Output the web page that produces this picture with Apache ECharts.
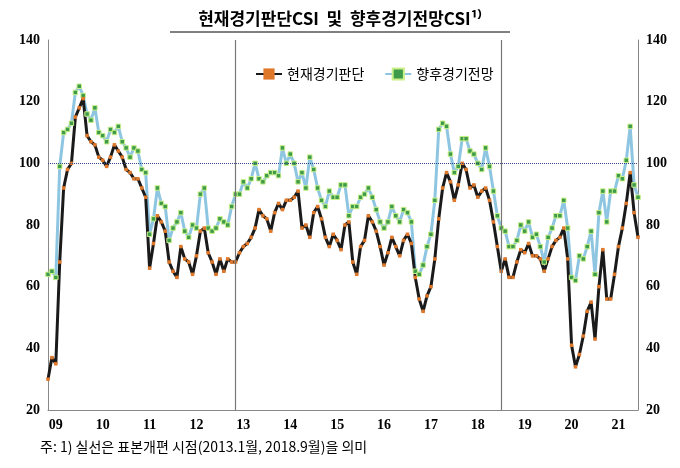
<!DOCTYPE html>
<html><head><meta charset="utf-8">
<script src="https://cdn.jsdelivr.net/npm/echarts@6/dist/echarts.min.js"></script>
<style>html,body{margin:0;padding:0;background:#fff}#c{width:680px;height:468px}</style>
</head><body><div id="c"></div>
<script>
const years = ['09','10','11','12','13','14','15','16','17','18','19','20','21'];
const yTicks = [20,40,60,80,100,120,140];
const currentCSI = [
 30,37,35,68,92,98,100,115,118,121,109,107,
 106,102,101,99,102,106,104,102,98,97,95,95,
 92,89,66,74,83,81,78,68,65,63,73,69,
 68,64,70,78,79,71,68,64,69,65,69,68,
 68,71,73,74,76,79,85,83,82,78,84,87,
 85,88,88,89,91,79,80,76,84,86,82,76,
 73,77,75,72,80,81,68,64,73,75,83,81,
 78,73,67,71,76,73,70,75,77,74,63,56,
 52,57,60,69,82,92,97,94,88,93,100,98,
 92,93,89,91,92,88,81,73,65,69,63,63,
 68,72,71,74,70,70,69,65,69,73,75,76,
 79,69,41,34,38,44,52,55,43,60,72,56,
 56,64,73,79,87,97,84,76
];
const outlookCSI = [
 64,65,63,99,110,111,113,123,125,122,116,114,
 118,110,109,107,111,110,112,107,105,102,105,104,
 98,97,77,82,92,87,86,75,79,81,84,78,
 76,80,79,90,92,79,78,79,82,81,80,86,
 90,90,94,92,95,100,95,94,96,97,97,96,
 105,100,103,100,94,97,92,102,98,92,88,86,
 91,89,89,93,93,83,86,86,89,90,92,89,
 85,81,79,81,86,83,81,85,84,81,65,64,
 67,73,77,88,111,113,112,103,97,99,108,108,
 104,103,100,98,105,99,91,83,79,78,73,73,
 75,80,78,81,76,77,73,68,76,79,83,83,
 88,79,63,62,70,69,73,78,64,84,91,81,
 91,91,96,95,101,112,93,89
];
const categories = [];
for (let y = 2009; y <= 2021; y++) for (let m = 1; m <= 12; m++) {
  if (categories.length < currentCSI.length) categories.push(y + '.' + String(m).padStart(2,'0'));
}
const chart = echarts.init(document.getElementById('c'));
const font = 'Liberation Serif, Noto Sans CJK KR';
const yAxisCommon = {
  type:'value', min:20, max:140, interval:20,
  axisLine:{show:true,lineStyle:{color:'#888'}}, axisTick:{show:false},
  splitLine:{show:false},
  axisLabel:{color:'#000', fontSize:14, fontWeight:'bold', fontFamily:font}
};
chart.setOption({
  animation:false,
  title:{text:'현재경기판단CSI  및  향후경기전망CSI¹⁾', left:'center', top:5,
    textStyle:{fontSize:17, fontWeight:'bold', color:'#000', fontFamily:'Noto Sans CJK KR'}},
  graphic:[
    {type:'line', shape:{x1:170,y1:32,x2:510,y2:32}, style:{stroke:'#000',lineWidth:1}},
    {type:'text', left:40, top:440, style:{text:'주: 1) 실선은 표본개편 시점(2013.1월, 2018.9월)을 의미', fontSize:14, fill:'#000', fontFamily:'Noto Sans CJK KR'}}
  ],
  legend:{top:62, left:250, itemWidth:26, itemGap:20,
    textStyle:{fontSize:14, color:'#000', fontFamily:'Noto Sans CJK KR'},
    data:['현재경기판단','향후경기전망']},
  grid:{left:48, right:42, top:40, bottom:58},
  xAxis:{type:'category', data:categories, boundaryGap:false,
    axisLine:{lineStyle:{color:'#888'}}, axisTick:{show:false},
    axisLabel:{color:'#000', fontSize:14, fontWeight:'bold', fontFamily:font, margin:8,
      interval:(i)=> i % 12 === 2,
      formatter:(v)=> v.slice(2,4)}},
  yAxis:[Object.assign({position:'left'}, yAxisCommon), Object.assign({position:'right'}, yAxisCommon)],
  series:[
    {name:'향후경기전망', type:'line', data:outlookCSI, symbol:'rect', symbolSize:4.5, showAllSymbol:true,
      lineStyle:{color:'#8ec6e2', width:3}, itemStyle:{color:'#3e9b4a', borderColor:'#c9f08a', borderWidth:1}},
    {name:'현재경기판단', type:'line', data:currentCSI, symbol:'rect', symbolSize:3.5, showAllSymbol:true,
      lineStyle:{color:'#1a1a1a', width:3}, itemStyle:{color:'#e0782a', borderWidth:0},
      markLine:{silent:true, symbol:'none', label:{show:false},
        data:[
          {yAxis:100, lineStyle:{color:'#334488', type:'dotted', width:1}},
          {xAxis:'2013.01', lineStyle:{color:'#777', type:'solid', width:1.2}},
          {xAxis:'2018.09', lineStyle:{color:'#777', type:'solid', width:1.2}}
        ]}}
  ]
});
</script></body></html>
